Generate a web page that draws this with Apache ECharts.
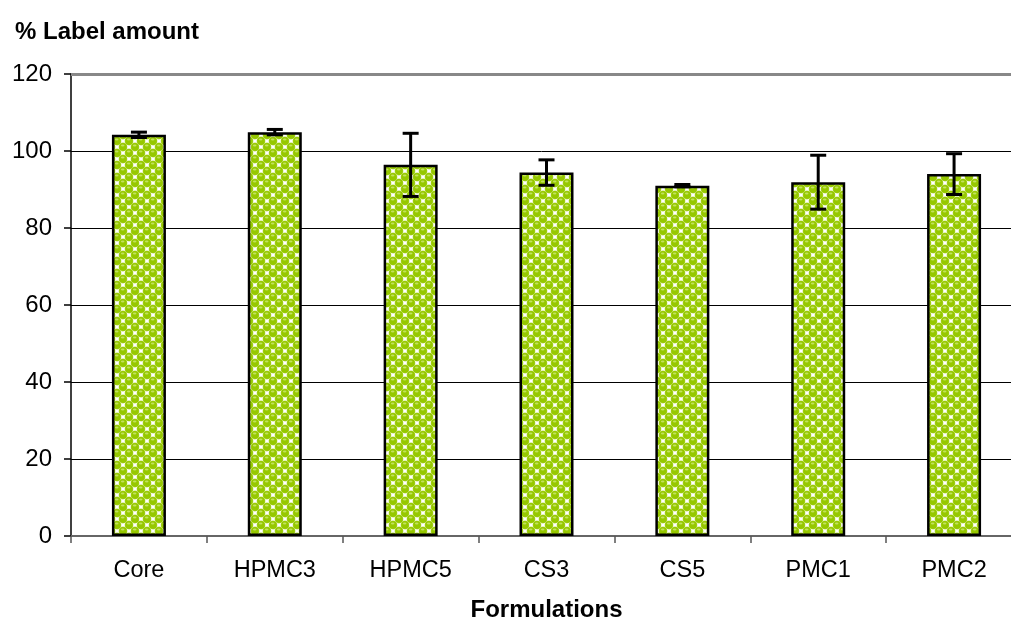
<!DOCTYPE html>
<html>
<head>
<meta charset="utf-8">
<script src="https://cdn.jsdelivr.net/npm/echarts@6/dist/echarts.min.js"></script>
<style>
html,body{margin:0;padding:0;background:#fff;overflow:hidden;}
#c{width:1011px;height:621px;}
</style>
</head>
<body>
<div id="c"></div>
<script>
const categories = ['Core', 'HPMC3', 'HPMC5', 'CS3', 'CS5', 'PMC1', 'PMC2'];
const values = [104.2, 104.9, 96.4, 94.4, 91.0, 91.9, 94.0];
const errors = [0.7, 0.7, 8.2, 3.3, 0.3, 7.0, 5.3];
const yMin = 0, yMax = 120, yStep = 20;

function makePattern() {
  const s = 12;
  const cv = document.createElement('canvas');
  cv.width = s; cv.height = s;
  const ctx = cv.getContext('2d');
  ctx.fillStyle = '#ffffff';
  ctx.fillRect(0, 0, s, s);
  const centers = [[3, 3], [9, 9]];
  for (const [cx, cy] of centers) {
    for (const dx of [-s, 0, s]) {
      for (const dy of [-s, 0, s]) {
        const x = cx + dx, y = cy + dy;
        ctx.beginPath();
        ctx.arc(x, y, 4.4, 0, Math.PI * 2);
        ctx.fillStyle = '#bcdc55';
        ctx.fill();
        ctx.beginPath();
        ctx.arc(x, y, 3.9, 0, Math.PI * 2);
        ctx.fillStyle = '#96c800';
        ctx.fill();
        ctx.beginPath();
        ctx.ellipse(x - 0.3, y - 1.6, 1.8, 1.0, 0, 0, Math.PI * 2);
        ctx.fillStyle = '#c2e25e';
        ctx.fill();
      }
    }
  }
  return cv;
}

const errData = categories.map((c, i) => [i, values[i] - errors[i], values[i] + errors[i]]);
const font = "'Liberation Sans', Arial, sans-serif";

const chart = echarts.init(document.getElementById('c'), null, { width: 1011, height: 621 });
chart.setOption({
  animation: false,
  backgroundColor: '#fff',
  title: {
    text: '% Label amount',
    left: 10, top: 15,
    textStyle: { fontFamily: font, fontSize: 24, fontWeight: 'bold', color: '#000' }
  },
  grid: { left: 71, top: 74, width: 951, height: 462, containLabel: false, outerBoundsMode: 'none' },
  xAxis: {
    type: 'category',
    data: categories,
    name: 'Formulations',
    nameLocation: 'middle',
    nameGap: 62,
    nameTextStyle: { fontFamily: font, fontSize: 24, fontWeight: 'bold', color: '#000' },
    axisLine: { lineStyle: { color: '#666', width: 2 } },
    axisTick: { show: true, length: 7, lineStyle: { color: '#555', width: 1.5 } },
    axisLabel: { fontFamily: font, fontSize: 23.5, color: '#000', margin: 23 },
    splitLine: { show: false }
  },
  yAxis: {
    type: 'value',
    min: yMin, max: yMax, interval: yStep,
    axisLine: { show: true, lineStyle: { color: '#000', width: 1.5 } },
    axisTick: { show: true, length: 7, lineStyle: { color: '#000', width: 1.5 } },
    axisLabel: { fontFamily: font, fontSize: 24, color: '#000', margin: 19 },
    splitLine: { show: true, lineStyle: { color: '#000', width: 1 } }
  },
  series: [
    {
      type: 'bar',
      data: values,
      barWidth: 54,
      itemStyle: {
        color: { image: makePattern(), repeat: 'repeat' },
        borderColor: '#000',
        borderWidth: 2.5
      },
      markLine: {
        silent: true,
        symbol: 'none',
        label: { show: false },
        lineStyle: { color: '#888', width: 3, type: 'solid' },
        data: [{ yAxis: yMax }]
      },
      z: 2
    },
    {
      type: 'custom',
      data: errData,
      z: 5,
      renderItem: function (params, api) {
        const i = api.value(0);
        const lo = api.coord([i, api.value(1)]);
        const hi = api.coord([i, api.value(2)]);
        const hw = 8;
        const style = { stroke: '#000', lineWidth: 3 };
        return {
          type: 'group',
          children: [
            { type: 'line', shape: { x1: lo[0], y1: lo[1], x2: hi[0], y2: hi[1] }, style: style },
            { type: 'line', shape: { x1: hi[0] - hw, y1: hi[1], x2: hi[0] + hw, y2: hi[1] }, style: style },
            { type: 'line', shape: { x1: lo[0] - hw, y1: lo[1], x2: lo[0] + hw, y2: lo[1] }, style: style }
          ]
        };
      }
    }
  ]
});
</script>
</body>
</html>
